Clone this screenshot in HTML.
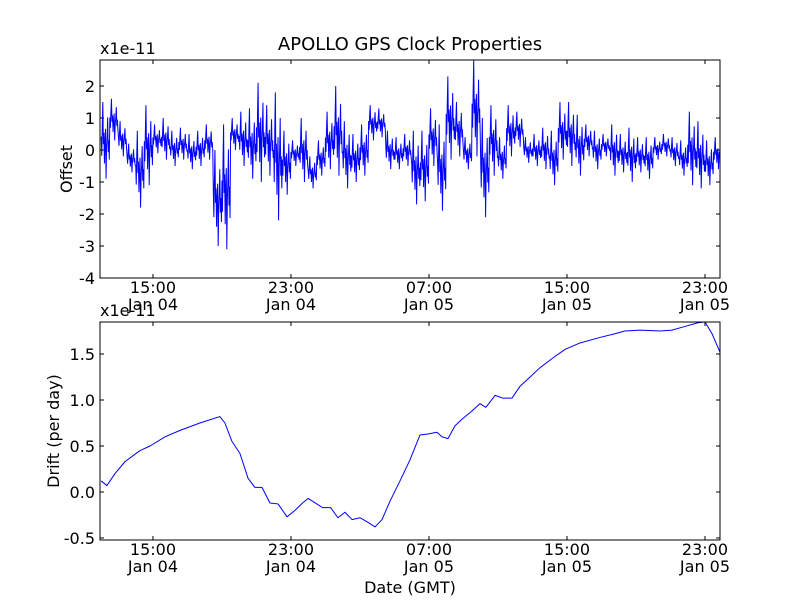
<!DOCTYPE html>
<html><head><meta charset="utf-8"><style>
html,body{margin:0;padding:0;background:#fff;}
svg text{font-family:"DejaVu Sans","Liberation Sans",sans-serif;fill:#000;}
</style></head><body>
<svg id="chart" width="800" height="600" viewBox="0 0 800 600" xmlns="http://www.w3.org/2000/svg">
<rect width="800" height="600" fill="#fff"/>
<text x="410" y="50" font-size="18" text-anchor="middle">APOLLO GPS Clock Properties</text>
<g id="top"></g>
<g id="bot"></g>
<text x="410" y="593" font-size="16" text-anchor="middle">Date (GMT)</text>
</svg>
<script>
const xTickHours = [3, 11, 19, 27, 35];
const xTickTimes = ["15:00", "23:00", "07:00", "15:00", "23:00"];
const xTickDates = ["Jan 04", "Jan 04", "Jan 05", "Jan 05", "Jan 05"];
const offsetTicks = [2, 1, 0, -1, -2, -3, -4];
const driftTicks = [1.5, 1.0, 0.5, 0.0, -0.5];
const driftTickLabels = ["1.5", "1.0", "0.5", "0.0", "-0.5"];
// offset envelope per 0.5h bucket (units 1e-11)
const offsetLo = [-0.9,0.3,-0.2,-0.7,-1.8,-1.1,-0.1,-0.3,-0.5,-0.3,-0.6,-0.5,-0.3,-3.0,-3.1,0.0,-0.5,-0.9,-1.0,-0.8,-2.2,-1.4,-0.5,-1.0,-1.2,-0.8,-0.6,-0.8,-1.2,-1.0,-0.8,0.3,0.4,-0.6,-0.6,-0.5,-1.7,-1.6,-0.5,-1.9,-0.3,-0.2,-0.6,-0.2,-2.1,-0.8,-0.9,-0.2,0.1,-0.4,-0.5,-0.6,-1.1,-0.3,-0.5,-0.8,-0.2,-0.6,-0.2,-0.8,-0.7,-1.0,-0.7,-0.9,-0.3,-0.2,-0.5,-0.8,-1.1,-1.2,-1.1,-0.6];
const offsetHi = [1.5,1.6,0.9,0.2,0.6,1.4,0.8,1.0,0.6,0.7,0.5,0.6,0.8,0.0,0.8,1.0,1.2,1.3,2.1,1.4,1.8,0.6,0.3,1.0,-0.2,0.3,1.2,2.0,0.9,0.5,0.8,1.4,1.3,0.6,0.4,0.5,0.6,0.6,1.3,0.8,2.3,1.5,0.4,2.8,1.0,1.4,0.4,1.4,1.2,0.4,0.5,0.7,0.6,1.5,1.5,1.1,0.8,0.6,0.5,0.8,0.5,0.7,0.4,0.4,0.4,0.5,0.4,0.3,1.2,0.9,0.3,0.4];
const driftHours = [0,0.33,0.8,1.38,2.25,2.83,3.7,4.57,5.72,6.88,7.17,7.58,8.04,8.51,8.91,9.32,9.78,10.25,10.77,11.23,11.67,12.0,12.42,12.83,13.3,13.72,14.13,14.54,15.0,15.46,15.87,16.28,16.74,17.32,17.9,18.48,18.94,19.46,19.75,20.1,20.51,20.97,21.49,21.96,22.3,22.83,23.29,23.81,24.28,24.86,25.43,26.13,26.88,27.75,28.91,29.78,30.36,31.23,32.39,33.09,33.84,34.59,35.0,35.41,35.87];
const driftValues = [0.12,0.07,0.2,0.33,0.45,0.5,0.6,0.67,0.75,0.82,0.75,0.55,0.42,0.15,0.05,0.05,-0.12,-0.13,-0.27,-0.2,-0.12,-0.07,-0.12,-0.17,-0.17,-0.28,-0.22,-0.3,-0.28,-0.33,-0.38,-0.3,-0.1,0.12,0.35,0.62,0.63,0.65,0.6,0.58,0.72,0.8,0.88,0.96,0.92,1.05,1.02,1.02,1.15,1.25,1.35,1.45,1.55,1.62,1.68,1.72,1.75,1.76,1.75,1.76,1.8,1.84,1.85,1.72,1.52];

const NS = "http://www.w3.org/2000/svg";
const X0 = 100, X1 = 720, H0 = -0.07, H1 = 35.87;
const xs = h => X0 + (h - H0) / (H1 - H0) * (X1 - X0);

function mk(parent, tag, attrs, txt) {
  const e = document.createElementNS(NS, tag);
  for (const k in attrs) e.setAttribute(k, attrs[k]);
  if (txt !== undefined) e.textContent = txt;
  parent.appendChild(e);
  return e;
}

function panel(g, top, bot, vmin, vmax, yTicks, yLabels, ylab, ylabX) {
  const ys = v => bot - (v - vmin) / (vmax - vmin) * (bot - top);
  yTicks.forEach((v, i) => {
    const y = ys(v);
    const l1 = mk(g, "line", {x1: X0, x2: X0 + 4, y1: y, y2: y, stroke: "#000"});
    
    
    const l2 = mk(g, "line", {x1: X1, x2: X1 - 4, y1: y, y2: y, stroke: "#000"});
    
    
    const t = mk(g, "text", {x: X0 - 5, y: y + 6, "font-size": 16, "text-anchor": "end"}, yLabels[i]);
    
    
  });
  xTickHours.forEach((h, i) => {
    const x = xs(h);
    const a = mk(g, "line", {x1: x, x2: x, y1: bot, y2: bot - 4, stroke: "#000"});
    
    
    const b = mk(g, "line", {x1: x, x2: x, y1: top, y2: top + 4, stroke: "#000"});
    
    
    const t1 = mk(g, "text", {x: x, y: bot + 15, "font-size": 16, "text-anchor": "middle"}, xTickTimes[i]);
    
    
    const t2 = mk(g, "text", {x: x, y: bot + 32, "font-size": 16, "text-anchor": "middle"}, xTickDates[i]);
    
    
  });
  const yl = mk(g, "text", {x: ylabX, y: (top + bot) / 2, "font-size": 16, "text-anchor": "middle", transform: `rotate(-90 ${ylabX} ${(top + bot) / 2})`}, ylab);
  
  
  const ex = mk(g, "text", {x: X0, y: top - 6, "font-size": 16}, "x1e-11");
  
  
  return ys;
}

function frame(g, top, bot) {
  const r = mk(g, "rect", {x: X0, y: top, width: X1 - X0, height: bot - top, fill: "none", stroke: "#000", "stroke-width": 1});
  
  
}

// top panel
const gt = document.getElementById("top");
const ysT = panel(gt, 60, 278, -4, 2.8125, offsetTicks, offsetTicks.map(String), "Offset", 72);
const pattern = [0.55, 0.3, 0.7, 1.0, 0.45, 0.6, 0.2, 0.5, 0.65, 0.0, 0.4, 0.55, 0.8, 0.35, 0.5, 0.25];
let pts = [];
offsetLo.forEach((lo, i) => {
  const hi = offsetHi[i];
  pattern.forEach((f, k) => {
    const h = i * 0.5 + k / pattern.length * 0.5;
    if (h > H1) return;
    pts.push(xs(Math.max(h, H0)).toFixed(2) + "," + ysT(lo + (hi - lo) * f).toFixed(2));
  });
});
const cp = mk(gt, "clipPath", {id: "clipT"});
mk(cp, "rect", {x: X0, y: 60, width: X1 - X0, height: 218});
const pl = mk(gt, "polyline", {points: pts.join(" "), fill: "none", stroke: "#0000ff", "stroke-width": 1, "clip-path": "url(#clipT)"});


frame(gt, 60, 278);

// bottom panel
const gb = document.getElementById("bot");
const ysB = panel(gb, 322, 540, -0.522, 1.848, driftTicks, driftTickLabels, "Drift (per day)", 59);
const dp = driftHours.map((h, i) => xs(h).toFixed(2) + "," + ysB(driftValues[i]).toFixed(2)).join(" ");
const pl2 = mk(gb, "polyline", {points: dp, fill: "none", stroke: "#0000ff", "stroke-width": 1, "stroke-linejoin": "round"});


frame(gb, 322, 540);
</script>
</body></html>
